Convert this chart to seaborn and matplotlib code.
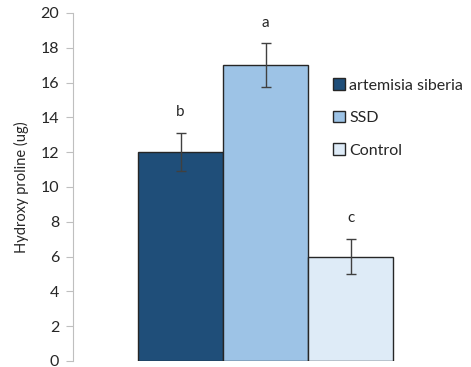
import seaborn as sns
import matplotlib.pyplot as plt
import pandas as pd

groups = ['artemisia siberia', 'SSD', 'Control']
means = [12.0, 17.0, 6.0]
errors = [1.1, 1.25, 1.0]
letters = ['b', 'a', 'c']
colors = ['#1F4E79', '#9DC3E6', '#DEEBF7']

sns.set_style('white')
plt.rcParams['font.family'] = ['Lato', 'DejaVu Sans']

data = pd.DataFrame({'group': groups, 'value': means})

fig = plt.figure(figsize=(4.71, 3.67), dpi=100)
ax = fig.add_axes([73 / 471, 6 / 367, 390 / 471, 348 / 367])
sns.barplot(data=data, x='group', y='value', hue='group', palette=colors,
            saturation=1, width=1.0, dodge=False, errorbar=None,
            edgecolor='#262626', linewidth=1.0, ax=ax, legend=True)
ax.errorbar(range(len(groups)), means, yerr=errors, fmt='none',
            ecolor='#404040', elinewidth=1.0, capsize=3.5, capthick=1.0)
for i, (m, e, t) in enumerate(zip(means, errors, letters)):
    ax.text(i, m + e + 0.8, t, ha='center', va='bottom', fontsize=11, color='#262626')

ax.set_ylim(0, 20)
ax.set_yticks(range(0, 21, 2))
ax.set_xlim(-1.265, 3.32)
ax.set_xticks([])
ax.set_xlabel('')
ax.set_ylabel('Hydroxy proline (ug)', fontsize=10.5, color='#262626', labelpad=8)
for s in ['top', 'right', 'bottom']:
    ax.spines[s].set_visible(False)
ax.spines['left'].set_color('#BFBFBF')
ax.tick_params(axis='y', left=True, length=5, color='#BFBFBF', labelsize=11.5,
               labelcolor='#262626', pad=5)

leg = ax.legend(loc='upper left', bbox_to_anchor=(327 / 471, 1 - 72 / 367),
                bbox_transform=fig.transFigure, frameon=False, fontsize=11.5,
                handlelength=0.7, handleheight=0.7, handletextpad=0.3,
                labelspacing=1.15, borderaxespad=0)
for h in leg.legend_handles:
    h.set_edgecolor('#262626')
    h.set_linewidth(1.0)
for t in leg.get_texts():
    t.set_color('#262626')

fig.savefig('out.png', dpi=100)
